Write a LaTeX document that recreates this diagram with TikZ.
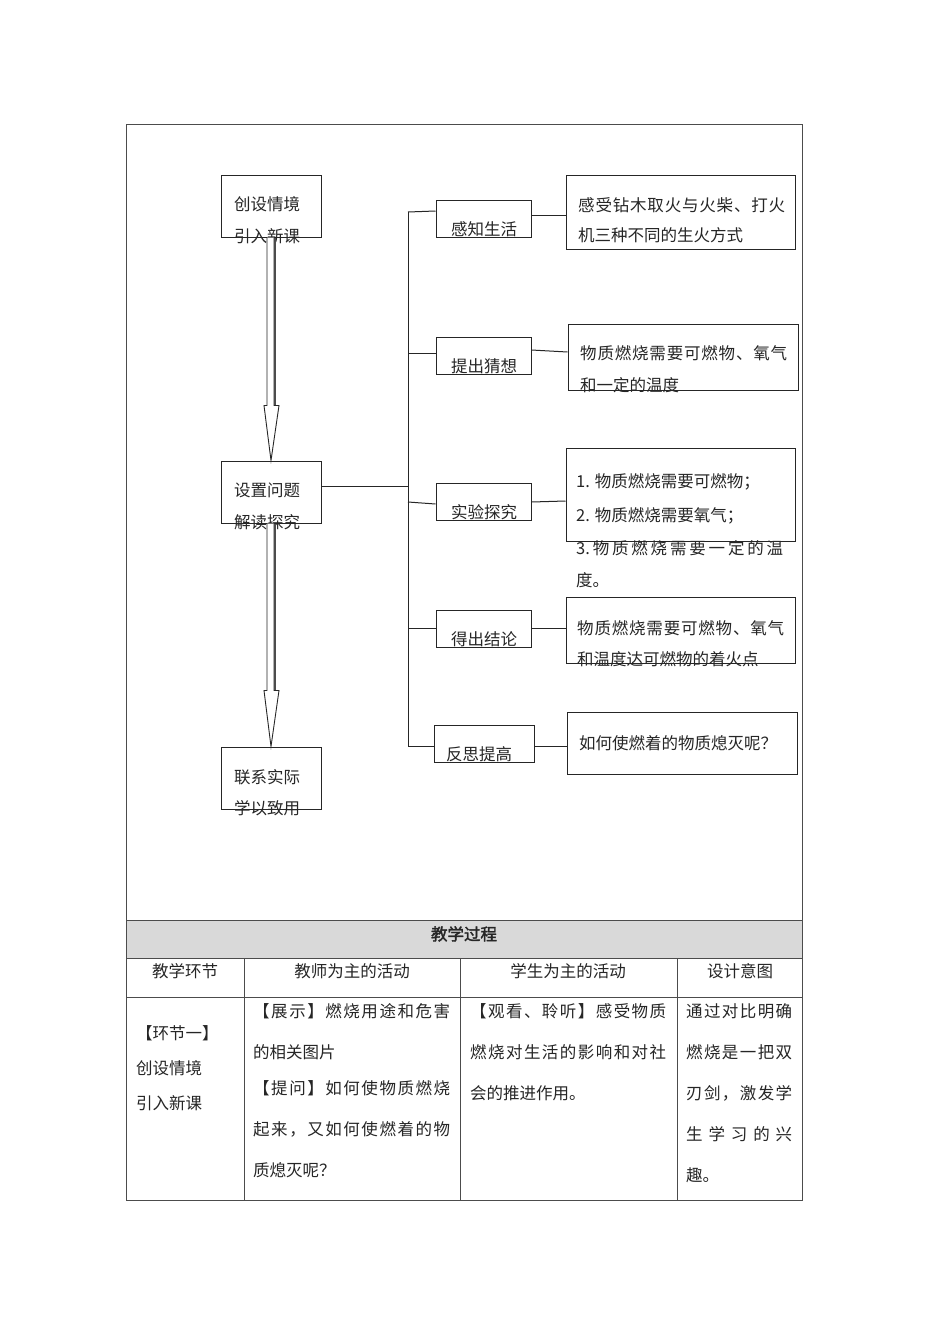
\documentclass[tikz,border=0pt]{standalone}
\usepackage{fontspec}
\setmainfont{Noto Sans CJK SC}[AutoFakeBold=2]
\usetikzlibrary{calc}
\def\spreadstop{\spreadstop}
\def\spreadaux#1{\def\spreadtmp{#1}\ifx\spreadtmp\spreadstop\else#1\expandafter\spreadnext\fi}
\def\spreadnext#1{\def\spreadtmp{#1}\ifx\spreadtmp\spreadstop\else\hfill#1\expandafter\spreadnext\fi}
\newcommand\spreadtxt[2]{\makebox[#1][s]{\spreadaux#2\spreadstop}}
\tikzset{
  box/.style={draw=black!85, line width=1pt, inner sep=0pt},
  txt/.style={anchor=west, inner sep=0pt, text height=14.5pt, text depth=2pt,
              font=\fontsize{16.5}{20}\selectfont, text=black!85},
  ctxt/.style={txt, anchor=center},
  conn/.style={line width=1pt, draw=black!85},
  hollow/.style={line width=0.9pt, draw=black!85, fill=white},
  grid/.style={line width=1pt, draw=black!70}
}
\begin{document}
\begin{tikzpicture}[x=1pt,y=-1pt]
\useasboundingbox (0,0) rectangle (950,1344);
\fill[white] (0,0) rectangle (950,1344);
% ---------- table ----------
\fill[gray!30] (126,920) rectangle (802,958);
\draw[grid] (126,124) rectangle (802,1200);
\draw[grid] (126,920) -- (802,920);
\draw[grid] (126,958) -- (802,958);
\draw[grid] (126,997) -- (802,997);
\foreach \x in {244,460,677} \draw[grid] (\x,958) -- (\x,1200);
\node[ctxt, font=\fontsize{16.5}{20}\selectfont\bfseries] (th) at (464,934) {教学过程};
\node[ctxt] (h1) at (185,971) {教学环节};
\node[ctxt] (h2) at (352,971) {教师为主的活动};
\node[ctxt] (h3) at (568,971) {学生为主的活动};
\node[ctxt] (h4) at (740,971) {设计意图};
% col1
\node[txt] (c1a) at (136,1033) {【环节一】};
\node[txt] (c1b) at (136,1068) {创设情境};
\node[txt] (c1c) at (136,1103) {引入新课};
% col2
\node[txt] (c2a) at (253,1011) {\spreadtxt{197pt}{【展示】燃烧用途和危害}};
\node[txt] (c2b) at (253,1052) {的相关图片};
\node[txt] (c2c) at (253,1088) {\spreadtxt{197pt}{【提问】如何使物质燃烧}};
\node[txt] (c2d) at (253,1129) {\spreadtxt{197pt}{起来，又如何使燃着的物}};
\node[txt] (c2e) at (253,1170) {质熄灭呢？};
% col3
\node[txt] (c3a) at (470,1011) {\spreadtxt{196pt}{【观看、聆听】感受物质}};
\node[txt] (c3b) at (470,1052) {\spreadtxt{196pt}{燃烧对生活的影响和对社}};
\node[txt] (c3c) at (470,1093) {会的推进作用。};
% col4
\node[txt] (c4a) at (686,1011) {\spreadtxt{106pt}{通过对比明确}};
\node[txt] (c4b) at (686,1052) {\spreadtxt{106pt}{燃烧是一把双}};
\node[txt] (c4c) at (686,1093) {\spreadtxt{106pt}{刃剑，激发学}};
\node[txt] (c4d) at (686,1134) {\spreadtxt{106pt}{生学习的兴}};
\node[txt] (c4e) at (686,1175) {趣。};
% ---------- left column boxes ----------
\node[box, minimum width=100pt, minimum height=62pt] (b1) at (271,206) {};
\node[box, minimum width=100pt, minimum height=62pt] (b2) at (271,492) {};
\node[box, minimum width=100pt, minimum height=62pt] (b3) at (271,778) {};
\node[txt] (b1a) at (234,204) {创设情境};
\node[txt] (b1b) at (234,236) {引入新课};
\node[txt] (b2a) at (234,490) {设置问题};
\node[txt] (b2b) at (234,522) {解读探究};
\node[txt] (b3a) at (234,777) {联系实际};
\node[txt] (b3b) at (234,808) {学以致用};
% hollow arrows
\draw[hollow] ($(b1.south)+(-4,0)$) -- ($(b1.south)+(-4,168)$) -- ($(b1.south)+(-7,168)$)
  -- (b2.north) -- ($(b1.south)+(8,168)$) -- ($(b1.south)+(3,168)$) -- ($(b1.south)+(3,0)$);
\draw[line width=2pt, draw=black!70] ($(b1.south)+(3.5,0.5)$) -- ($(b1.south)+(3.5,167.5)$);
\draw[hollow] ($(b2.south)+(-4,0)$) -- ($(b2.south)+(-4,167)$) -- ($(b2.south)+(-7,167)$)
  -- (b3.north) -- ($(b2.south)+(8,167)$) -- ($(b2.south)+(3,167)$) -- ($(b2.south)+(3,0)$);
\draw[line width=2pt, draw=black!70] ($(b2.south)+(3.5,0.5)$) -- ($(b2.south)+(3.5,166.5)$);
% ---------- middle boxes ----------
\node[box, minimum width=95pt, minimum height=37pt] (s1) at (483.5,218.5) {};
\node[box, minimum width=95pt, minimum height=37pt] (s2) at (483.5,355.5) {};
\node[box, minimum width=95pt, minimum height=37pt] (s3) at (483.5,501.5) {};
\node[box, minimum width=95pt, minimum height=37pt] (s4) at (483.5,628.5) {};
\node[box, minimum width=100pt, minimum height=37pt] (s5) at (484,743.5) {};
\node[txt] (s1t) at (451,229) {感知生活};
\node[txt] (s2t) at (451,366) {提出猜想};
\node[txt] (s3t) at (451,512) {实验探究};
\node[txt] (s4t) at (451,639) {得出结论};
\node[txt] (s5t) at (446,754) {反思提高};
% ---------- right boxes ----------
\node[box, minimum width=229pt, minimum height=74pt] (r1) at (680.5,212) {};
\node[box, minimum width=230pt, minimum height=66pt] (r2) at (683,357) {};
\node[box, minimum width=229pt, minimum height=93pt] (r3) at (680.5,494.5) {};
\node[box, minimum width=229pt, minimum height=66pt] (r4) at (680.5,630) {};
\node[box, minimum width=230pt, minimum height=62pt] (r5) at (682,743) {};
\node[txt] (r1a) at (578,205) {\spreadtxt{207pt}{感受钻木取火与火柴、打火}};
\node[txt] (r1b) at (578,235) {机三种不同的生火方式};
\node[txt] (r2a) at (580,353) {\spreadtxt{207pt}{物质燃烧需要可燃物、氧气}};
\node[txt] (r2b) at (580,385) {和一定的温度};
\node[txt] (r3a) at (576,481) {1. 物质燃烧需要可燃物；};
\node[txt] (r3b) at (576,515) {2. 物质燃烧需要氧气；};
\node[txt] (r3c) at (576,548) {\spreadtxt{207pt}{{3.}物质燃烧需要一定的温}};
\node[txt] (r3d) at (576,580) {度。};
\node[txt] (r4a) at (577,628) {\spreadtxt{207pt}{物质燃烧需要可燃物、氧气}};
\node[txt] (r4b) at (577,659) {和温度达可燃物的着火点};
\node[txt] (r5a) at (579,743) {如何使燃着的物质熄灭呢？};
% ---------- connectors ----------
\coordinate (tTop) at (408,212);
\coordinate (tBot) at (408,746);
\draw[conn] (tTop) -- (tBot);
\draw[conn] (b2.east |- 0,486) -- (tTop |- 0,486);
\draw[conn] (tTop) -- (s1.west |- 0,211);
\draw[conn] (tTop |- 0,353) -- (s2.west |- 0,353);
\draw[conn] (tTop |- 0,502) -- (s3.west |- 0,504);
\draw[conn] (tTop |- 0,628) -- (s4.west |- 0,628);
\draw[conn] (tBot) -- (s5.west |- 0,746);
\draw[conn] (s1.east |- 0,215) -- (r1.west |- 0,215);
\draw[conn] (s2.east |- 0,350) -- (r2.west |- 0,352);
\draw[conn] (s3.east |- 0,502) -- (r3.west |- 0,501);
\draw[conn] (s4.east |- 0,628) -- (r4.west |- 0,628);
\draw[conn] (s5.east |- 0,746) -- (r5.west |- 0,746);
\end{tikzpicture}
\end{document}
